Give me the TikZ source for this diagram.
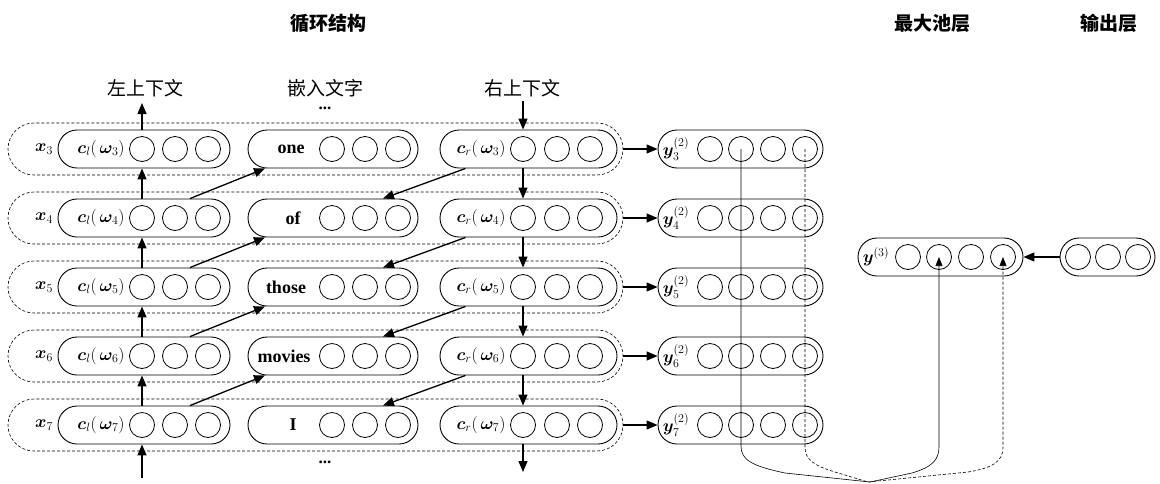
\documentclass[tikz,border=0pt]{standalone}
\usepackage{amsmath,bm}
\usepackage[no-math]{fontspec}
\setmainfont{Liberation Serif}
\newfontfamily\cjk{Noto Sans CJK SC}
\usetikzlibrary{arrows.meta,shapes.misc,calc}
\tikzset{
  capsule/.style={draw, line width=0.9pt, rounded rectangle, minimum height=38pt, inner sep=0pt},
  dcapsule/.style={draw, line width=0.6pt, dash pattern=on 3pt off 2pt, rounded rectangle, minimum width=615pt, minimum height=52pt, inner sep=0pt},
  neu/.style={draw, circle, line width=0.8pt, minimum size=25pt, inner sep=0pt},
  arr/.style={line width=1.3pt, -{Triangle[length=11pt,width=9pt]}},
  thinarr/.style={line width=0.6pt, -{Triangle[length=9pt,width=7pt]}},
  lbl/.style={font=\fontsize{18}{18}\selectfont, inner sep=0pt},
  wordlbl/.style={font=\bfseries\fontsize{18}{18}\selectfont, inner sep=0pt},
  ttl/.style={font=\cjk\bfseries\fontsize{19}{19}\selectfont, inner sep=0pt},
  hdl/.style={font=\cjk\fontsize{19}{19}\selectfont, inner sep=0pt},
  dotl/.style={font=\bfseries\fontsize{17}{17}\selectfont, inner sep=0pt},
}
\begin{document}
\begin{tikzpicture}[x=1pt,y=-1pt]
\useasboundingbox (0,0) rectangle (1160,483);

% titles
\node[ttl] (t1) at (328,23) {循环结构};
\node[ttl] (t2) at (932,23) {最大池层};
\node[ttl] (t3) at (1109,23) {输出层};
\node[hdl] (h1) at (145,88) {左上下文};
\node[hdl] (h2) at (325,88) {嵌入文字};
\node[hdl] (h3) at (522,88) {右上下文};
\node[dotl] (d1) at (325,108) {...};
\node[dotl] (d2) at (325,462) {...};

% rows
\foreach \i/\w/\wx [count=\r from 0] in {3/one/291,4/of/293,5/those/286,6/movies/284,7/I/293} {
  \pgfmathsetmacro\yy{149+69*\r}
  \node[dcapsule] (dc\i) at (315.5,\yy) {};
  \node[capsule, minimum width=172pt] (lc\i) at (144,\yy) {};
  \node[capsule, minimum width=170pt] (mc\i) at (333,\yy) {};
  \node[capsule, minimum width=177pt] (rc\i) at (528.5,\yy) {};
  \node[capsule, minimum width=165pt] (yc\i) at (740.5,\yy) {};
  \foreach \k/\cx in {1/142,2/175,3/208} \node[neu] (lc\i-\k) at (\cx,\yy) {};
  \foreach \k/\cx in {1/332,2/365,3/398} \node[neu] (mc\i-\k) at (\cx,\yy) {};
  \foreach \k/\cx in {1/523,2/557,3/590} \node[neu] (rc\i-\k) at (\cx,\yy) {};
  \foreach \k/\cx in {1/710,2/741,3/773,4/805} \node[neu] (yc\i-\k) at (\cx,\yy) {};
  \node[lbl] (xl\i) at (44,\yy) {$\bm{x}_{\i}$};
  \node[lbl] (cl\i) at (101,\yy) {$\bm{c}_{l}(\,\bm{\omega}_{\i})$};
  \node[wordlbl] (w\i) at (\wx,\yy) {\w};
  \node[lbl] (cr\i) at (481,\yy) {$\bm{c}_{r}(\,\bm{\omega}_{\i})$};
  \node[lbl] (yl\i) at (676,\yy) {$\bm{y}^{(2)}_{\i}$};
  \draw[arr] (dc\i.east) -- (yc\i.west);
}

% max pooling and output
\node[capsule, minimum width=165pt] (yo) at (940.5,257) {};
\foreach \k/\cx in {1/908,2/939,3/971,4/1003} \node[neu] (yo-\k) at (\cx,257) {};
\node[lbl] (ylo) at (876,257) {$\bm{y}^{(3)}$};
\node[capsule, minimum width=95pt] (out) at (1107.5,257) {};
\foreach \k/\cx in {1/1078,2/1108,3/1138} \node[neu] (out-\k) at (\cx,257) {};
\draw[arr] (out.west) -- (yo.east);

% vertical context arrows
\coordinate (lt) at (142,103);
\coordinate (lb) at (142,478);
\coordinate (rt) at (523,101);
\coordinate (rb) at (523,472);
\draw[arr] (lc3-1 |- lc3.north) -- (lt);
\draw[arr] (lb) -- (lc7-1 |- lc7.south);
\draw[arr] (rt) -- (rc3-1 |- rc3.north);
\draw[arr] (rc7-1 |- rc7.south) -- (rb);
\foreach \a/\b in {3/4,4/5,5/6,6/7} {
  \draw[arr] (lc\b-1 |- lc\b.north) -- (lc\a-1 |- lc\a.south);
  \draw[arr] (rc\a-1 |- rc\a.south) -- (rc\b-1 |- rc\b.north);
  \draw[arr] ([xshift=46pt]lc\b.north) -- ([xshift=-68pt]mc\a.south);
  \draw[arr] ([xshift=-63pt]rc\a.south) -- ([xshift=50pt]mc\b.north);
}

% max pooling connections
\draw[thinarr] (yc3-2.center) -- (741,446) .. controls (741,460) and (752,466) .. (785,473)
   -- (870,482) -- (912,473) .. controls (932,467) and (939,460) .. (939,447) -- (yo-2.center);
\draw[thinarr, dash pattern=on 3pt off 2pt] (yc3-4.center) -- (805,447) .. controls (805,460) and (815,466) .. (835,472)
   -- (868,482) -- (968,472) .. controls (992,468) and (1003,462) .. (1003,447) -- (yo-4.center);
\end{tikzpicture}
\end{document}
